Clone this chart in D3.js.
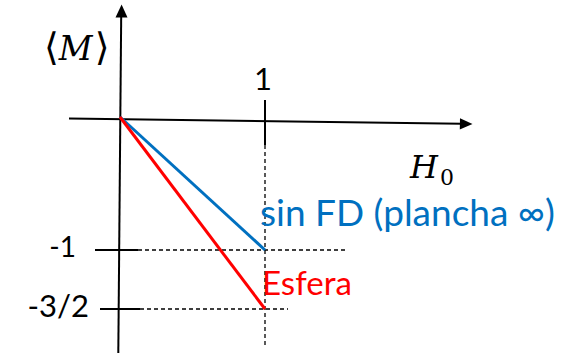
<!DOCTYPE html>
<html>
<head>
<meta charset="utf-8">
<script src="https://cdn.jsdelivr.net/npm/d3@7"></script>
<style>
  html, body { margin: 0; padding: 0; background: #fff; }
  svg { display: block; }
</style>
</head>
<body>
<svg id="chart" width="567" height="353"></svg>
<script>
// Field H0 (reduced) and magnetisation <M> for the two geometries
const fieldValues = [0, 1];
const mPlancha = [0, -1];     // no demagnetising field (infinite slab)
const mEsfera = [0, -1.5];    // sphere
const seriesNames = ["sin FD (plancha \u221E)", "Esfera"];
const seriesColors = ["#0070C0", "#FF0000"];

const xTickValues = [1];
const xTickLabels = ["1"];
const yTickValues = [-1, -1.5];
const yTickLabels = ["-1", "-3/2"];

const svg = d3.select("#chart");
const sans = "Lato, 'Open Sans', sans-serif";
const serif = "'DejaVu Serif', 'Liberation Serif', serif";

const x = d3.scaleLinear().domain([0, 1]).range([120, 265]);
const y = d3.scaleLinear().domain([-1.5, -1, 0]).range([309, 250, 117]);

// Guides: dashed drop lines from the end points
const dash = svg.append("g").attr("stroke", "#000").attr("stroke-width", 1.3)
  .attr("stroke-dasharray", "4,3").attr("fill", "none");
dash.append("line").attr("x1", x(1)).attr("x2", x(1)).attr("y1", 145).attr("y2", 345);
dash.append("line").attr("x1", 138).attr("x2", 347).attr("y1", y(-1)).attr("y2", y(-1));
dash.append("line").attr("x1", 140).attr("x2", 288).attr("y1", y(-1.5)).attr("y2", y(-1.5));

// Axes drawn as arrows
const axes = svg.append("g").attr("stroke", "#000").attr("stroke-width", 2).attr("fill", "none");
axes.append("line").attr("x1", 69).attr("y1", 118.5).attr("x2", 462).attr("y2", 123.8);
axes.append("line").attr("x1", 121.2).attr("y1", 15).attr("x2", 118.3).attr("y2", 353);
svg.append("path").attr("d", "M472.5,124 L460,118.3 L459.8,129.6 Z").attr("fill", "#000");
svg.append("path").attr("d", "M121.6,4.5 L115.5,17.5 L127.5,17.5 Z").attr("fill", "#000");

// Ticks
const ticks = svg.append("g").attr("stroke", "#000").attr("stroke-width", 2);
xTickValues.forEach(v => {
  ticks.append("line").attr("x1", x(v)).attr("x2", x(v)).attr("y1", 100).attr("y2", 145);
});
yTickValues.forEach((v, i) => {
  ticks.append("line").attr("x1", i === 0 ? 95 : 100).attr("x2", i === 0 ? 138 : 140)
    .attr("y1", y(v)).attr("y2", y(v));
});

// Magnetisation lines
const line = d3.line().x(d => x(d[0])).y(d => y(d[1]));
[mPlancha, mEsfera].forEach((s, i) => {
  svg.append("path")
    .datum(fieldValues.map((h, j) => [h, s[j]]))
    .attr("d", line)
    .attr("fill", "none")
    .attr("stroke", seriesColors[i])
    .attr("stroke-width", 3);
});

// Tick labels
xTickLabels.forEach((t, i) => {
  svg.append("text").attr("x", x(xTickValues[i]) - 2).attr("y", 90)
    .attr("text-anchor", "middle").attr("font-family", sans).attr("font-size", 31)
    .text(t);
});
const yLabelPos = [{ x: 76, y: 257, size: 28 }, { x: 89, y: 317, size: 31 }];
yTickLabels.forEach((t, i) => {
  svg.append("text").attr("x", yLabelPos[i].x).attr("y", yLabelPos[i].y)
    .attr("text-anchor", "end").attr("font-family", sans).attr("font-size", yLabelPos[i].size)
    .text(t);
});

// Axis titles
const mt = svg.append("text").attr("x", 44).attr("y", 60).attr("font-size", 33);
mt.append("tspan").attr("font-family", "'DejaVu Sans', sans-serif").attr("font-size", 38).text("\u27E8");
mt.append("tspan").attr("font-family", serif).attr("font-style", "italic").attr("dx", 0).text("M");
mt.append("tspan").attr("font-family", "'DejaVu Sans', sans-serif").attr("font-size", 38).attr("dx", 2).text("\u27E9");

const ht = svg.append("text").attr("x", 410).attr("y", 178).attr("font-family", serif);
ht.append("tspan").attr("font-style", "italic").attr("font-size", 32).text("H");
ht.append("tspan").attr("font-size", 22).attr("dx", 2).attr("dy", 7).text("0");

// Series labels, sized to their spans
const labelPos = [{ x: 260, y: 226, w: 295 }, { x: 262, y: 295, w: 90 }];
seriesNames.forEach((n, i) => {
  const t = svg.append("text").attr("x", labelPos[i].x).attr("y", labelPos[i].y)
    .attr("font-family", sans).attr("font-size", 30).attr("fill", seriesColors[i]).text(n);
  const w = t.node().getComputedTextLength();
  t.attr("font-size", 30 * labelPos[i].w / w);
});
</script>
</body>
</html>
